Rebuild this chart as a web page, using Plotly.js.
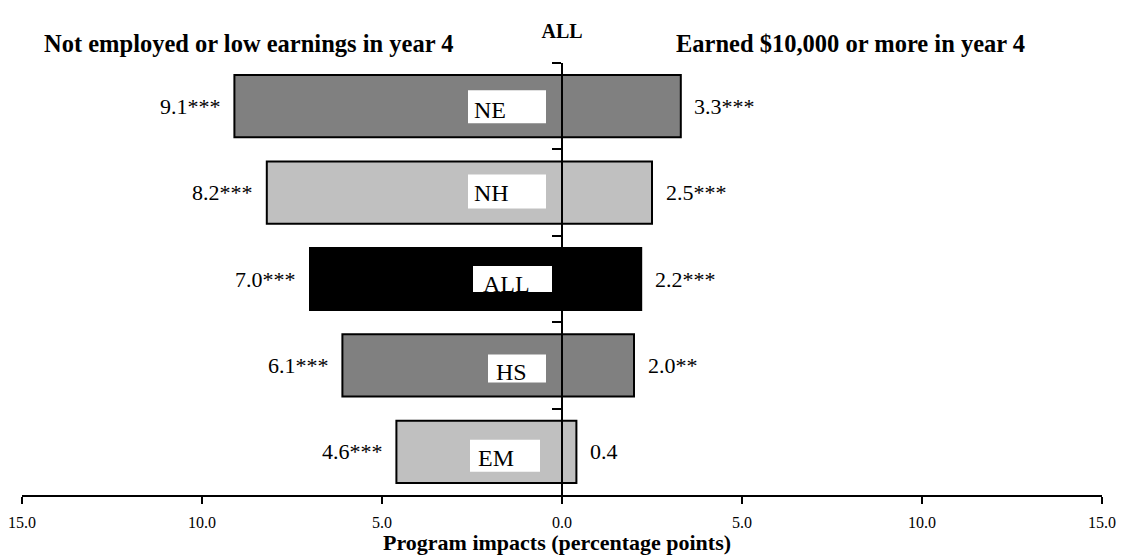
<!DOCTYPE html>
<html>
<head>
<meta charset="utf-8">
<script src="https://cdn.plot.ly/plotly-3.0.1.min.js"></script>
<style>
  html, body { margin: 0; padding: 0; background: #fff; }
  #chart { width: 1123px; height: 555px; }
</style>
</head>
<body>
<div id="chart"></div>
<script>
// ---- data ----
const categories = ["NE", "NH", "ALL", "HS", "EM"];
const leftValues = [9.1, 8.2, 7.0, 6.1, 4.6];   // Not employed or low earnings in year 4
const leftStars = ["***", "***", "***", "***", "***"];
const rightValues = [3.3, 2.5, 2.2, 2.0, 0.4];  // Earned $10,000 or more in year 4
const rightStars = ["***", "***", "***", "**", ""];
const xTickValues = [-15, -10, -5, 0, 5, 10, 15];
const xTickLabels = ["15.0", "10.0", "5.0", "0.0", "5.0", "10.0", "15.0"];

// ---- styles ----
const barColors = ["#808080", "#c0c0c0", "#000000", "#808080", "#c0c0c0"];
const FONT = "Liberation Serif";
// white label boxes: pixel offsets from (zero line, category centre)
const labelBoxStyle = [
  { l: -94, r: -16, t: -16, b: 17, tx: -90, base: 12 },
  { l: -94, r: -16, t: -18, b: 16, tx: -90, base: 8 },
  { l: -89, r: -10, t: -13, b: 13, tx: -81, base: 13 },
  { l: -74, r: -16, t: -11, b: 17, tx: -68, base: 15 },
  { l: -92, r: -22, t: -12, b: 20, tx: -86, base: 14 }
];

const traces = [
  {
    type: "bar", orientation: "h", y: categories,
    x: leftValues.map(v => -v),
    marker: { color: barColors, line: { color: "#000", width: 2 } },
    hoverinfo: "skip", showlegend: false
  },
  {
    type: "bar", orientation: "h", y: categories,
    x: rightValues,
    marker: { color: barColors, line: { color: "#000", width: 2 } },
    hoverinfo: "skip", showlegend: false
  }
];

const annotations = [];
const shapes = [];
leftValues.forEach((v, i) => {
  annotations.push({
    x: -v - 0.33, y: categories[i], xref: "x", yref: "y",
    text: v.toFixed(1) + leftStars[i], showarrow: false,
    xanchor: "right", yanchor: "middle",
    font: { family: FONT, size: 22, color: "#000" }
  });
});
rightValues.forEach((v, i) => {
  annotations.push({
    x: v + 0.32, y: categories[i], xref: "x", yref: "y",
    text: v.toFixed(1) + rightStars[i], showarrow: false,
    xanchor: "left", yanchor: "middle",
    font: { family: FONT, size: 22, color: "#000" }
  });
});
categories.forEach((c, i) => {
  const s = labelBoxStyle[i];
  shapes.push({
    type: "rect", layer: "above",
    xref: "x", xsizemode: "pixel", xanchor: 0, x0: s.l, x1: s.r,
    yref: "y", ysizemode: "pixel", yanchor: i, y0: -s.b, y1: -s.t,
    fillcolor: "#ffffff", line: { width: 0 }
  });
  annotations.push({
    x: 0, y: c, xref: "x", yref: "y",
    xshift: s.tx, yshift: -(s.base - 8),
    text: c, showarrow: false,
    xanchor: "left", yanchor: "middle",
    font: { family: FONT, size: 24, color: "#000" }
  });
});
annotations.push({
  x: 0.4009, y: 1.044, xref: "paper", yref: "paper",
  text: "<b>Not employed or low earnings in year 4</b>", showarrow: false,
  xanchor: "right", yanchor: "middle",
  font: { family: FONT, size: 24.5, color: "#000" }
});
annotations.push({
  x: 0.6037, y: 1.044, xref: "paper", yref: "paper",
  text: "<b>Earned $10,000 or more in year 4</b>", showarrow: false,
  xanchor: "left", yanchor: "middle",
  font: { family: FONT, size: 24.5, color: "#000" }
});
annotations.push({
  x: 0.4958, y: -0.111, xref: "paper", yref: "paper",
  text: "<b>Program impacts (percentage points)</b>", showarrow: false,
  xanchor: "center", yanchor: "middle",
  font: { family: FONT, size: 22, color: "#000" }
});

const layout = {
  width: 1123, height: 555,
  margin: { l: 22, r: 21, t: 63, b: 60, pad: 0 },
  paper_bgcolor: "#fff", plot_bgcolor: "#fff",
  font: { family: FONT, size: 17, color: "#000" },
  barmode: "relative", bargap: 0.28,
  showlegend: false,
  title: {
    text: "<b>ALL</b>", x: 0.5, xref: "paper", xanchor: "center",
    y: 1 - 31 / 555, yref: "container", yanchor: "middle",
    font: { family: FONT, size: 20, color: "#000" }
  },
  xaxis: {
    range: [-15, 15], tickmode: "array",
    tickvals: xTickValues, ticktext: xTickLabels,
    ticks: "outside", ticklen: 7, tickwidth: 2, tickcolor: "#000",
    showline: true, linewidth: 2, linecolor: "#000",
    showgrid: false, zeroline: false, fixedrange: true,
    ticklabelstandoff: 5,
    tickfont: { family: FONT, size: 16, color: "#000" }
  },
  yaxis: {
    type: "category", categoryarray: categories, categoryorder: "array",
    autorange: "reversed",
    anchor: "free", position: 0.5,
    showline: true, linewidth: 2, linecolor: "#000",
    ticks: "outside", tickson: "boundaries", ticklen: 9, tickwidth: 2, tickcolor: "#000",
    showticklabels: false, showgrid: false, zeroline: false, fixedrange: true
  },
  shapes: shapes,
  annotations: annotations
};

Plotly.newPlot("chart", traces, layout, { displayModeBar: false, staticPlot: true });
</script>
</body>
</html>
